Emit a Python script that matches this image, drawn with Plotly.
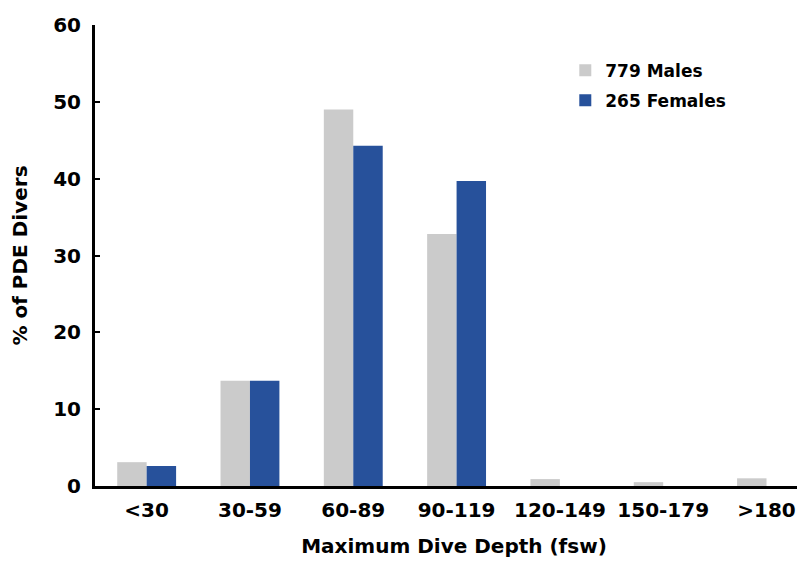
import plotly.graph_objects as go

categories = ["<30", "30-59", "60-89", "90-119", "120-149", "150-179", ">180"]
males = [3.1, 13.7, 49.0, 32.8, 0.9, 0.5, 1.0]
females = [2.6, 13.7, 44.3, 39.7, 0, 0, 0]
y_ticks = [0, 10, 20, 30, 40, 50, 60]

FONT = "DejaVu Sans, Verdana, sans-serif"

fig = go.Figure()
fig.add_trace(go.Bar(x=categories, y=males, name="779 Males", legendgroup="m",
                     marker=dict(color="#cbcbcb", line=dict(width=0))))
fig.add_trace(go.Bar(x=categories, y=females, name="265 Females", legendgroup="f",
                     marker=dict(color="#27519b", line=dict(width=0))))

fig.update_layout(
    width=805, height=563,
    margin=dict(l=87, r=0, t=17, b=85),
    paper_bgcolor="white", plot_bgcolor="white",
    barmode="group", bargap=0.43, bargroupgap=0,
    font=dict(family=FONT, color="black"),
    showlegend=True,
    legend=dict(x=0.655, y=0.94, xanchor="left", yanchor="top",
                font=dict(family=FONT, size=17, color="black", weight="bold"),
                bgcolor="rgba(0,0,0,0)", tracegroupgap=5, itemwidth=30),
    xaxis=dict(
        type="category", range=[-0.5, 6.45],
        showline=True, linecolor="black", linewidth=3,
        ticks="", showgrid=False, zeroline=False,
        tickfont=dict(family=FONT, size=20, color="black", weight="bold"),
        ticklabelstandoff=4,
        title=dict(text="Maximum Dive Depth (fsw)", standoff=18,
                   font=dict(family=FONT, size=20, color="black", weight="bold")),
    ),
    yaxis=dict(
        range=[0, 60], tickvals=y_ticks,
        showline=True, linecolor="black", linewidth=3,
        ticks="inside", ticklen=5, tickwidth=2, tickcolor="black",
        showgrid=False, zeroline=False,
        tickfont=dict(family=FONT, size=20, color="black", weight="bold"),
        ticklabelstandoff=7,
        title=dict(text="% of PDE Divers", standoff=27,
                   font=dict(family=FONT, size=20, color="black", weight="bold")),
    ),
)

fig.write_html("out.html")
